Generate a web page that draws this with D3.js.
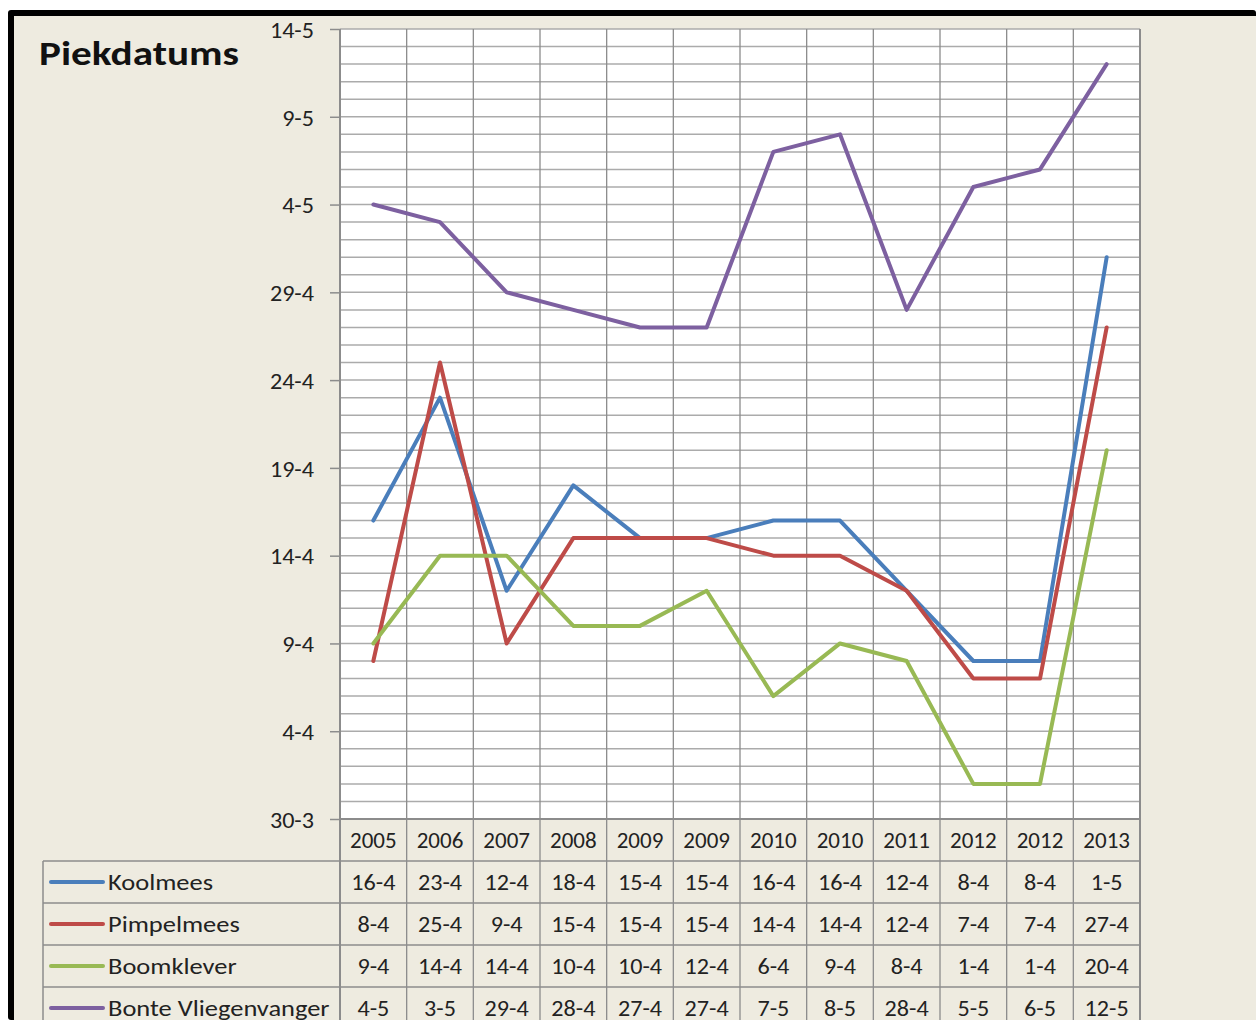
<!DOCTYPE html>
<html><head><meta charset="utf-8">
<script src="https://cdn.jsdelivr.net/npm/d3@7"></script>
<style>body{margin:0;background:#fff}svg{display:block}</style>
</head><body>
<svg id="c" width="1256" height="1020"></svg>
<script>
const years = ["2005","2006","2007","2008","2009","2009","2010","2010","2011","2012","2012","2013"];
const koolmees   = ["16-4","23-4","12-4","18-4","15-4","15-4","16-4","16-4","12-4","8-4","8-4","1-5"];
const pimpelmees = ["8-4","25-4","9-4","15-4","15-4","15-4","14-4","14-4","12-4","7-4","7-4","27-4"];
const boomklever = ["9-4","14-4","14-4","10-4","10-4","12-4","6-4","9-4","8-4","1-4","1-4","20-4"];
const bonte      = ["4-5","3-5","29-4","28-4","27-4","27-4","7-5","8-5","28-4","5-5","6-5","12-5"];
const seriesNames = ["Koolmees","Pimpelmees","Boomklever","Bonte Vliegenvanger"];
const seriesColors = ["#4a7ebb","#be4b48","#98b954","#7d60a0"];
const yTickLabels = ["30-3","4-4","9-4","14-4","19-4","24-4","29-4","4-5","9-5","14-5"];

const seriesData = [koolmees, pimpelmees, boomklever, bonte];
const parse = d3.timeParse("%d-%m-%Y");
const toDate = s => parse(s + "-2013");
const fmt = d => d.getDate() + "-" + (d.getMonth() + 1);

const svg = d3.select("#c");
const font = "Carlito, Lato, 'Open Sans', sans-serif";
function stretch(sel, f){
  sel.each(function(){
    const l = this.getComputedTextLength();
    this.setAttribute("textLength", l*f);
    this.setAttribute("lengthAdjust","spacingAndGlyphs");
  });
}

// frame
svg.append("rect").attr("x",0).attr("y",0).attr("width",1256).attr("height",1020).attr("fill","#fff");
svg.append("rect").attr("x",8).attr("y",10).attr("width",1248).attr("height",1010).attr("fill","#000").attr("rx",3);
svg.append("rect").attr("x",14).attr("y",16).attr("width",1242).attr("height",1004).attr("fill","#eeebe0");

const L = 340, R = 1140, T = 29, B = 819;
const x = d3.scaleBand().domain(d3.range(years.length)).range([L, R]);
const y = d3.scaleTime().domain([toDate(yTickLabels[0]), toDate(yTickLabels[yTickLabels.length-1])]).range([B, T]);

// plot background
svg.append("rect").attr("x",L).attr("y",T).attr("width",R-L).attr("height",B-T).attr("fill","#fff");

// daily gridlines
const days = d3.timeDay.range(y.domain()[0], d3.timeDay.offset(y.domain()[1],1));
svg.append("g").selectAll("line").data(days).join("line")
  .attr("x1",L).attr("x2",R).attr("y1",d=>y(d)).attr("y2",d=>y(d))
  .attr("stroke","#ababab").attr("stroke-width",1.5);

// vertical gridlines (category boundaries) through plot and table
const TB = 1020;
const bounds = d3.range(years.length + 1).map(i => i < years.length ? x(i) : R);
svg.append("g").selectAll("line").data(bounds).join("line")
  .attr("x1",d=>d).attr("x2",d=>d).attr("y1",T).attr("y2",TB)
  .attr("stroke","#8c8c8c")
  .attr("stroke-width",(d,i)=> (i===0||i===years.length) ? 2 : 1.3);

// y axis
const yAxis = d3.axisLeft(y).tickValues(yTickLabels.map(toDate)).tickFormat(fmt).tickSize(10).tickPadding(16);
const ga = svg.append("g").attr("transform",`translate(${L},0)`).call(yAxis);
ga.select(".domain").remove();
ga.selectAll(".tick line").attr("stroke","#8c8c8c").attr("stroke-width",1.5);
ga.selectAll(".tick text").attr("font-family",font).attr("font-size",23).attr("fill","#222").attr("dy","0.36em");
stretch(ga.selectAll(".tick text"), 1.05);

// table
const rowH = 42;
const hdrTop = B, rowTop = B + rowH;
const tableLeft = 43;
const tg = svg.append("g");
tg.append("line").attr("x1",L).attr("x2",R).attr("y1",B).attr("y2",B).attr("stroke","#8c8c8c").attr("stroke-width",2);
d3.range(seriesNames.length).forEach(i=>{
  tg.append("line").attr("x1",tableLeft).attr("x2",R).attr("y1",rowTop + i*rowH).attr("y2",rowTop + i*rowH)
    .attr("stroke","#8c8c8c").attr("stroke-width",1.5);
});
tg.append("line").attr("x1",tableLeft).attr("x2",tableLeft).attr("y1",rowTop).attr("y2",TB).attr("stroke","#8c8c8c").attr("stroke-width",1.5);

// header years
const yr = tg.selectAll("text.yr").data(years).join("text").attr("class","yr")
  .attr("x",(d,i)=>x(i)+x.bandwidth()/2).attr("y",hdrTop + rowH/2 + 8)
  .attr("text-anchor","middle").attr("font-family",font).attr("font-size",23).attr("fill","#222").text(d=>d);
stretch(yr, 1.0);

seriesData.forEach((arr,si)=>{
  const cy = rowTop + si*rowH + rowH/2;
  tg.append("line").attr("x1",51).attr("x2",103).attr("y1",cy).attr("y2",cy)
    .attr("stroke",seriesColors[si]).attr("stroke-width",4).attr("stroke-linecap","round");
  const nm = tg.append("text").attr("x",108).attr("y",cy+8).attr("font-family",font).attr("font-size",23).attr("fill","#222").text(seriesNames[si]);
  stretch(nm, 1.15);
  const cells = tg.selectAll(null).data(arr).join("text")
    .attr("x",(d,i)=>x(i)+x.bandwidth()/2).attr("y",cy+8)
    .attr("text-anchor","middle").attr("font-family",font).attr("font-size",23).attr("fill","#222").text(d=>d);
  stretch(cells, 1.05);
});

// lines
const line = d3.line().x((d,i)=>x(i)+x.bandwidth()/2).y(d=>y(toDate(d)));
svg.append("g").selectAll("path").data(seriesData).join("path")
  .attr("d",line).attr("fill","none")
  .attr("stroke",(d,i)=>seriesColors[i]).attr("stroke-width",4)
  .attr("stroke-linejoin","round").attr("stroke-linecap","round");

// title
svg.append("text").attr("x",39).attr("y",65).attr("font-family",font).attr("font-weight","bold")
  .attr("font-size",35).attr("fill","#111").attr("textLength",200).attr("lengthAdjust","spacingAndGlyphs").text("Piekdatums");
</script>
</body></html>
